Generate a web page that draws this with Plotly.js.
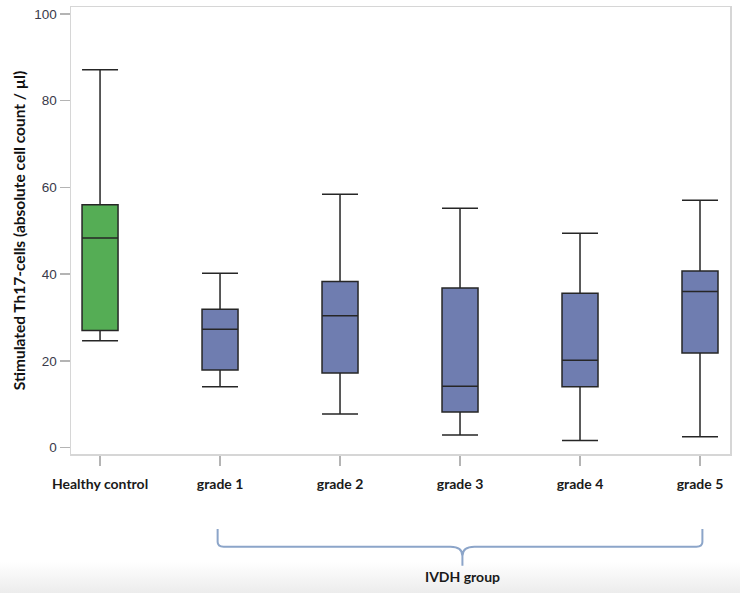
<!DOCTYPE html>
<html>
<head>
<meta charset="utf-8">
<script src="https://cdn.plot.ly/plotly-3.0.1.min.js"></script>
<style>
html,body{margin:0;padding:0;}
body{width:740px;height:593px;background:linear-gradient(to bottom,#ffffff 0px,#ffffff 562px,#ececec 593px);}
#chart{width:740px;height:593px;}
</style>
</head>
<body>
<div id="chart"></div>
<script>
// Data
const categories = ['Healthy control','grade 1','grade 2','grade 3','grade 4','grade 5'];
const upperWhisker = [87.1, 40.2, 58.4, 55.2, 49.4, 57.0];
const q3Values     = [56.0, 31.9, 38.3, 36.8, 35.6, 40.7];
const medianValues = [48.3, 27.3, 30.4, 14.1, 20.1, 36.0];
const q1Values     = [27.0, 17.9, 17.2,  8.2, 14.0, 21.8];
const lowerWhisker = [24.6, 14.0,  7.7,  2.9,  1.6,  2.5];
const yTicks = [0, 20, 40, 60, 80, 100];
const groupLabel = 'IVDH group';

function boxTrace(idx, fill) {
  return {
    type: 'box',
    x: idx.map(i => categories[i]),
    q1: idx.map(i => q1Values[i]),
    median: idx.map(i => medianValues[i]),
    q3: idx.map(i => q3Values[i]),
    lowerfence: idx.map(i => lowerWhisker[i]),
    upperfence: idx.map(i => upperWhisker[i]),
    boxpoints: false,
    width: 0.3,
    whiskerwidth: 1,
    fillcolor: fill,
    line: {color: '#262626', width: 1.5},
    showlegend: false,
    hoverinfo: 'skip'
  };
}

const traces = [
  boxTrace([0], '#55ad55'),
  boxTrace([1,2,3,4,5], '#6f7db0')
];

const layout = {
  width: 740, height: 593,
  margin: {l: 71, r: 10, t: 7, b: 139},
  paper_bgcolor: 'rgba(0,0,0,0)',
  plot_bgcolor: '#ffffff',
  boxmode: 'overlay',
  xaxis: {
    type: 'category',
    categoryorder: 'array',
    categoryarray: categories,
    range: [-0.242, 5.25],
    showgrid: false, zeroline: false,
    showline: true, linecolor: '#d6d6d6', linewidth: 1.5, mirror: true,
    ticks: 'outside', ticklen: 10, tickcolor: '#b4b4b4', tickwidth: 1.5,
    ticklabelstandoff: 7,
    tickfont: {family: 'Lato, "Open Sans", sans-serif', size: 14, color: '#1a1a1a', weight: 'bold'}
  },
  yaxis: {
    range: [-1.5, 101.6],
    tickvals: yTicks,
    showgrid: false, zeroline: false,
    showline: true, linecolor: '#d6d6d6', linewidth: 1.5, mirror: true,
    ticks: 'outside', ticklen: 10, tickcolor: '#b4b4b4', tickwidth: 1.5,
    tickfont: {family: '"Liberation Sans", Arial, sans-serif', size: 13.5, color: '#3a3a4a'},
    title: {
      text: 'Stimulated Th17-cells (absolute cell count / µl)',
      font: {family: 'Lato, "Open Sans", sans-serif', size: 15.5, color: '#111111', weight: 'bold'},
      standoff: 5
    }
  },
  shapes: [{
    type: 'path',
    xref: 'x', yref: 'paper',
    path: 'M 0.98 -0.168 L 0.98 -0.197 Q 0.98 -0.2074 1.03 -0.2074 L 2.92 -0.2074 Q 3.02 -0.2074 3.02 -0.228 L 3.02 -0.25 ' +
          'M 3.02 -0.228 Q 3.02 -0.2074 3.12 -0.2074 L 4.97 -0.2074 Q 5.02 -0.2074 5.02 -0.197 L 5.02 -0.168',
    line: {color: '#8ca5c9', width: 2}
  }],
  annotations: [{
    text: groupLabel,
    xref: 'x', yref: 'paper',
    x: 3.02, y: -0.2745,
    yanchor: 'middle',
    showarrow: false,
    font: {family: 'Lato, "Open Sans", sans-serif', size: 14, color: '#1a1a1a', weight: 'bold'}
  }]
};

Plotly.newPlot('chart', traces, layout, {displayModeBar: false, staticPlot: true});
</script>
</body>
</html>
